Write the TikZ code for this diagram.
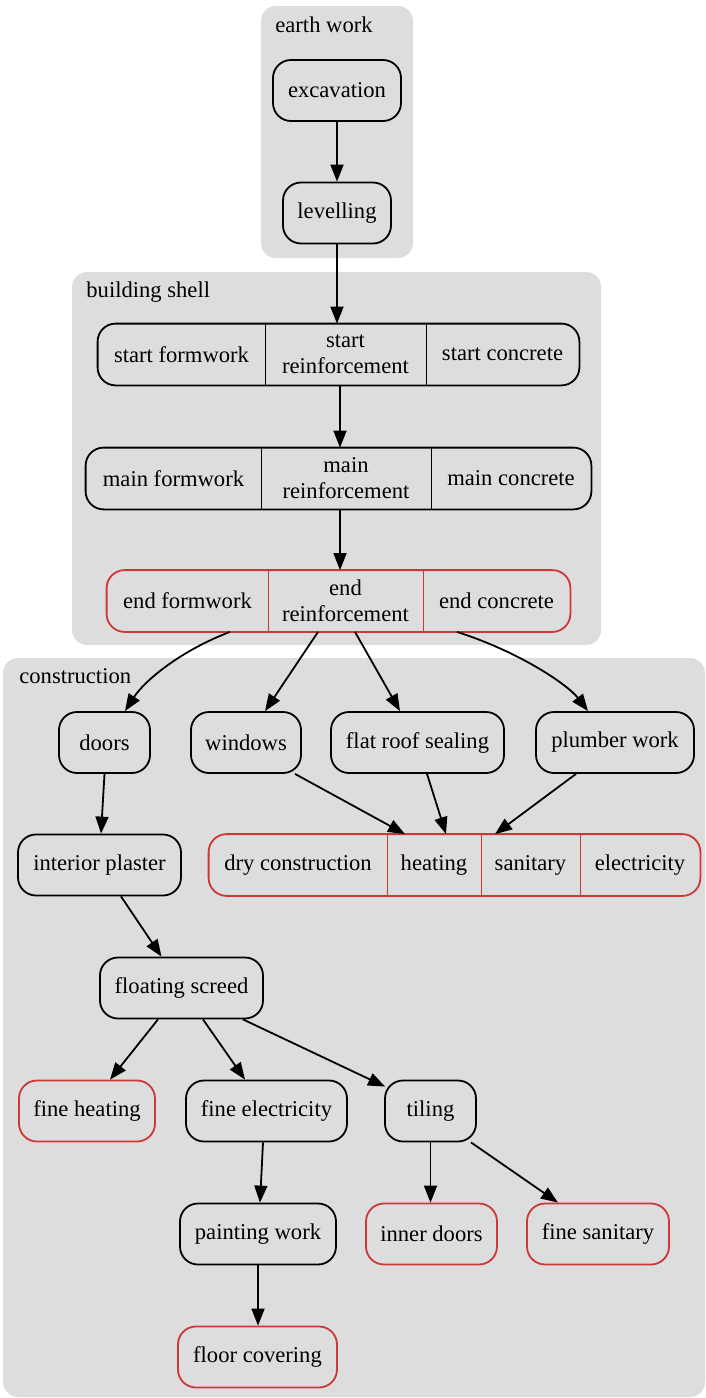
\documentclass[tikz,border=0pt]{standalone}
\usepackage{fontspec}
\setmainfont{Liberation Serif}
\usetikzlibrary{arrows.meta, positioning, calc, fit}
\definecolor{clgray}{RGB}{221,221,221}
\definecolor{msred}{RGB}{205,55,55}
\tikzset{
  cluster/.style = {fill=clgray, rounded corners=7.5pt},
  clabel/.style  = {anchor=base west, inner sep=0pt},
  task/.style    = {draw, rounded corners=9pt, line width=0.9pt, align=center,
                    minimum height=30.5pt, inner sep=0pt},
  done/.style    = {task, draw=msred},
  cell/.style    = {minimum height=30.5pt, inner sep=0pt, align=center},
  sep/.style     = {line width=0.9pt},
  edge/.style    = {-{Triangle[length=8.5pt, width=6.5pt]}, line width=0.9pt}
}

\begin{document}
\begin{tikzpicture}[x=0.5pt, y=-0.5pt, font=\fontsize{11.3}{13}\selectfont]
  \useasboundingbox (0,0) rectangle (706,1398);

  % ── Clusters ─────────────────────────────────────────────────────────────
  \fill[cluster] (261,6)   rectangle (413,258);
  \fill[cluster] (72,272)  rectangle (601,645);
  \fill[cluster] (3,658)   rectangle (705,1397);
  \node[clabel] (lEarth)  at (275,32)  {earth work};
  \node[clabel] (lShell)  at (86,297)  {building shell};
  \node[clabel] (lConstr) at (19,683)  {construction};

  % ── Earth work ───────────────────────────────────────────────────────────
  \node[task, minimum width=64pt] (excav) at (337,90.5) {excavation};
  \node[task, minimum width=54pt] (level) at (337,213)  {levelling};

  % ── Building shell (records) ─────────────────────────────────────────────
  \node[cell, minimum width=83.5pt] (sF) at (181.5,354.5) {start formwork};
  \node[cell, minimum width=80.5pt] (sR) at (345.5,354.5) {start\\reinforcement};
  \node[cell, minimum width=76.5pt] (sC) at (502.5,354.5) {start concrete};
  \node[task, fit=(sF)(sC)] (start) {};
  \draw[sep] (sF.north east) -- (sF.south east);
  \draw[sep] (sR.north east) -- (sR.south east);

  \node[cell, minimum width=87.5pt] (mF) at (173.5,478.5) {main formwork};
  \node[cell, minimum width=85pt]   (mR) at (346,478.5)   {main\\reinforcement};
  \node[cell, minimum width=80pt]   (mC) at (511,478.5)   {main concrete};
  \node[task, fit=(mF)(mC)] (main) {};
  \draw[sep] (mF.north east) -- (mF.south east);
  \draw[sep] (mR.north east) -- (mR.south east);

  \node[cell, minimum width=80.5pt] (eF) at (187.5,601) {end formwork};
  \node[cell, minimum width=77.5pt] (eR) at (345.5,601) {end\\reinforcement};
  \node[cell, minimum width=73.5pt] (eC) at (496.5,601) {end concrete};
  \node[done, fit=(eF)(eC)] (end) {};
  \draw[sep, msred] (eF.north east) -- (eF.south east);
  \draw[sep, msred] (eR.north east) -- (eR.south east);

  % ── Construction ─────────────────────────────────────────────────────────
  \node[task, minimum width=45.5pt] (doors)    at (104.5,742.5) {doors};
  \node[task, minimum width=55pt]   (windows)  at (246,742.5)   {windows};
  \node[task, minimum width=86.5pt] (flatroof) at (417.5,742.5) {flat roof sealing};
  \node[task, minimum width=79pt]   (plumber)  at (615,742.5)   {plumber work};

  \node[task, minimum width=81.5pt] (plaster)  at (99.5,865)    {interior plaster};
  \node[cell, minimum width=89pt]   (dry)      at (298,865)     {dry construction};
  \node[cell, minimum width=47pt]   (heat)     at (434,865)     {heating};
  \node[cell, minimum width=49.5pt] (sani)     at (530.5,865)   {sanitary};
  \node[cell, minimum width=60pt]   (elec)     at (640,865)     {electricity};
  \node[done, fit=(dry)(elec)] (trades) {};
  \draw[sep, msred] (dry.north east)  -- (dry.south east);
  \draw[sep, msred] (heat.north east) -- (heat.south east);
  \draw[sep, msred] (sani.north east) -- (sani.south east);

  \node[task, minimum width=81.5pt] (screed)   at (181.5,988)   {floating screed};
  \node[done, minimum width=68pt]   (fheat)    at (87,1111)     {fine heating};
  \node[task, minimum width=80.5pt] (felec)    at (266.5,1111)  {fine electricity};
  \node[task, minimum width=45.5pt] (tiling)   at (430.5,1111)  {tiling};
  \node[task, minimum width=78pt]   (paint)    at (258,1234)    {painting work};
  \node[done, minimum width=65.5pt] (idoors)   at (431.5,1234)  {inner doors};
  \node[done, minimum width=71pt]   (fsani)    at (598,1234)    {fine sanitary};
  \node[done, minimum width=79.5pt] (floor)    at (257.5,1357)  {floor covering};

  % ── Connections ──────────────────────────────────────────────────────────
  \draw[edge] (excav) -- (level);
  \draw[edge] (level.south) -- (level.south |- sR.north);
  \draw[edge] ($(sR.south)+(-5.5,0)$) -- ($(mR.north)+(-6,0)$);
  \draw[edge] ($(mR.south)+(-6,0)$) -- ($(eR.north)+(-5.5,0)$);

  % shell → construction
  \draw[edge] ($(eF.south)+(42.5,0)$) .. controls (182,650) and (145,680) .. ($(doors.north)+(20.5,0)$);
  \draw[edge] ($(eR.south)+(-27.5,0)$) -- ($(windows.north)+(19,0)$);
  \draw[edge] ($(eR.south)+(9.5,0)$) -- ($(flatroof.north)+(-17.5,0)$);
  \draw[edge] ($(eC.south)+(-39.5,0)$) .. controls (520,652) and (568,685) .. ($(plumber.north)+(-27,0)$);

  % construction
  \draw[edge] (doors.south) -- ($(plaster.north)+(1.5,0)$);
  \draw[edge] ($(windows.south)+(49,0)$) -- ($(heat.north)+(-29,0)$);
  \draw[edge] ($(flatroof.south)+(9.5,0)$) -- ($(heat.north)+(12,0)$);
  \draw[edge] ($(plumber.south)+(-39,0)$) -- ($(sani.north)+(-35.5,0)$);
  \draw[edge] ($(plaster.south)+(21.5,0)$) -- ($(screed.north)+(-20,0)$);
  \draw[edge] ($(screed.south)+(-23.5,0)$) -- ($(fheat.north)+(23,0)$);
  \draw[edge] ($(screed.south)+(21.5,0)$) -- ($(felec.north)+(-21.5,0)$);
  \draw[edge] ($(screed.south)+(61.5,0)$) -- ($(tiling.north west)+(1,7)$);
  \draw[edge] ($(felec.south)+(-3.5,0)$) -- ($(paint.north)+(2,0)$);
  \draw[edge] (tiling.south) -- (tiling.south |- idoors.north);
  \draw[edge] ($(tiling.south)+(40.5,0)$) -- ($(fsani.north)+(-40,0)$);
  \draw[edge] (paint.south) -- (paint.south |- floor.north);

\end{tikzpicture}
\end{document}
